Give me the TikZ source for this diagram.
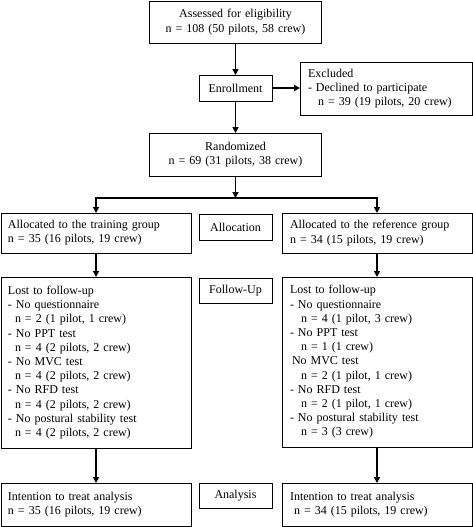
\documentclass[tikz,border=0pt]{standalone}
\usepackage{fontspec}
\setmainfont{Liberation Serif}
\usetikzlibrary{arrows.meta}
\begin{document}
\begin{tikzpicture}[x=1pt,y=-1pt,
  base/.style={draw, line width=0.9pt, anchor=north west, inner ysep=0pt, outer sep=0pt,
    font=\fontsize{12}{14.2}\selectfont},
  cbox/.style={base, align=center, inner xsep=0pt},
  lboxL/.style={base, align=left, inner xsep=7pt, text width=176pt},
  lboxR/.style={base, align=left, inner xsep=8pt, text width=174pt},
  arr/.style={line width=1.6pt, -{Triangle[length=6pt,width=6pt]}}]
\useasboundingbox (0,0) rectangle (473,527);

\node[cbox, text width=172pt, minimum height=42pt] (assess) at (149.5,1)
  {Assessed for eligibility\\n = 108 (50 pilots, 58 crew)};
\node[cbox, text width=73pt, minimum height=26pt] (enroll) at (199,75) {Enrollment};
\node[base, align=left, inner xsep=8pt, text width=156pt, minimum height=53pt] (excl) at (300,62)
  {Excluded\\- Declined to participate\\\hspace*{10pt}n = 39 (19 pilots, 20 crew)};
\node[cbox, text width=172pt, minimum height=43pt] (rand) at (149.5,133)
  {Randomized\\n = 69 (31 pilots, 38 crew)};

\node[lboxL, minimum height=40pt] (train) at (1,213)
  {Allocated to the training group\\n = 35 (16 pilots, 19 crew)};
\node[cbox, text width=73pt, minimum height=26pt] (alloc) at (199,214) {Allocation};
\node[lboxR, minimum height=40pt] (ref) at (282,213)
  {Allocated to the reference group\\n = 34 (15 pilots, 19 crew)};

\node[lboxL, minimum height=171pt] (lostL) at (1,277)
  {Lost to follow-up\\
   - No questionnaire\\
   \hspace*{7pt}n = 2 (1 pilot, 1 crew)\\
   - No PPT test\\
   \hspace*{7pt}n = 4 (2 pilots, 2 crew)\\
   - No MVC test\\
   \hspace*{7pt}n = 4 (2 pilots, 2 crew)\\
   - No RFD test\\
   \hspace*{7pt}n = 4 (2 pilots, 2 crew)\\
   - No postural stability test\\
   \hspace*{7pt}n = 4 (2 pilots, 2 crew)};
\node[cbox, text width=73pt, minimum height=25pt] (follow) at (199,278) {Follow-Up};
\node[lboxR, minimum height=170pt] (lostR) at (282,277)
  {Lost to follow-up\\
   - No questionnaire\\
   \hspace*{11pt}n = 4 (1 pilot, 3 crew)\\
   - No PPT test\\
   \hspace*{11pt}n = 1 (1 crew)\\
   \hspace*{2pt}No MVC test\\
   \hspace*{11pt}n = 2 (1 pilot, 1 crew)\\
   - No RFD test\\
   \hspace*{11pt}n = 2 (1 pilot, 1 crew)\\
   - No postural stability test\\
   \hspace*{11pt}n = 3 (3 crew)};

\node[lboxL, minimum height=43pt] (intL) at (1,483)
  {Intention to treat analysis\\n = 35 (16 pilots, 19 crew)};
\node[cbox, text width=73pt, minimum height=25pt] (anal) at (199,483) {Analysis};
\node[lboxR, minimum height=43pt] (intR) at (282,483)
  {Intention to treat analysis\\\hspace*{4pt}n = 34 (15 pilots, 19 crew)};

\coordinate (split) at (235.5,198);
\draw[arr] (assess) -- (enroll);
\draw[arr] (enroll.east) -- (enroll.east -| excl.west);
\draw[arr] (enroll) -- (rand);
\draw[arr] (rand) -- (split);
\draw[arr] (split) -| (train.north);
\draw[arr] (split) -| (ref.north);
\draw[arr] (train) -- (lostL);
\draw[arr] (ref) -- (lostR);
\draw[arr] (lostL) -- (intL);
\draw[arr] (lostR) -- (intR);
\end{tikzpicture}
\end{document}
